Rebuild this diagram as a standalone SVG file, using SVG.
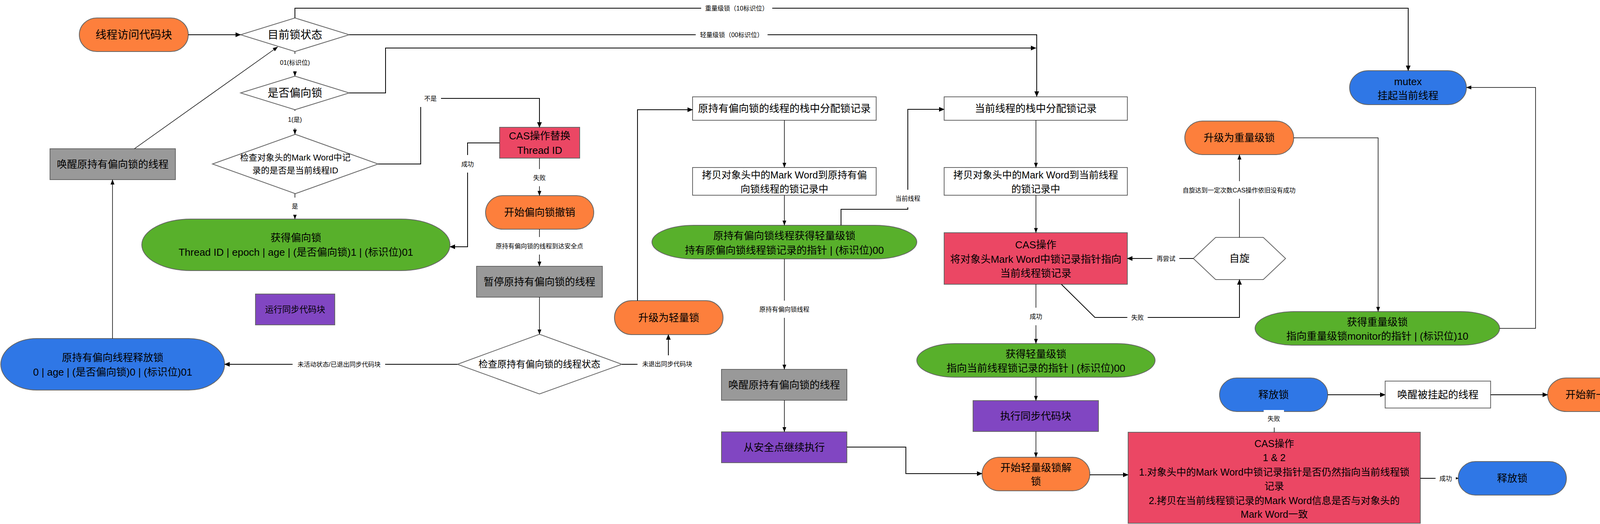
<svg xmlns="http://www.w3.org/2000/svg" width="4264" height="1342" viewBox="0 0 4264 1342">
<style>
.n{stroke:#666;stroke-width:2}
.or{fill:#FD7F3C}.gr{fill:#58B02B}.bl{fill:#2F77E6}.rd{fill:#EB4764}.pu{fill:#8146C2}.gy{fill:#999}.wh{fill:#fff}
text{font-family:"Liberation Sans","Noto Sans CJK SC",sans-serif;fill:#000;text-anchor:middle;dominant-baseline:central}
.t28{font-size:28px}.t26{font-size:26px}.t25{font-size:25px}.t24{font-size:24px}.t22{font-size:22px}
.e{fill:none;stroke:#000;stroke-width:1.5;marker-end:url(#b)}
.k{stroke-width:2;marker-end:url(#a)}
.lb{fill:#fff}
.lt{font-size:16px}
</style>
<defs>
<marker id="a" markerUnits="userSpaceOnUse" markerWidth="14" markerHeight="12" refX="13" refY="6" orient="auto"><path d="M0,0 L14,6 L0,12 z" fill="#000"/></marker>
<marker id="b" markerUnits="userSpaceOnUse" markerWidth="13" markerHeight="10" refX="12.5" refY="5" orient="auto"><path d="M0,0 L13,5 L0,10 z" fill="#000"/></marker>
</defs>
<rect width="4264" height="1342" fill="#fff"/>

<g id="n-start"><path class="n or" d="M248,46 H437 A45,43 0 0 1 437,132 H248 A45,43 0 0 1 248,46 Z"/><text class="t28" x="342.5" y="89">线程访问代码块</text></g>
<g id="n-state"><polygon class="n wh" points="616,89 755,46 894,89 755,132"/><text class="t28" x="755" y="89">目前锁状态</text></g>
<g id="n-biased"><polygon class="n wh" points="616,238 755,195 894,238 755,281"/><text class="t28" x="755" y="238">是否偏向锁</text></g>
<g id="n-check"><polygon class="n wh" points="544,420 756,344 968,420 756,496"/><text class="t22" x="756" y="403">检查对象头的Mark Word中记</text><text class="t22" x="756" y="436">录的是否是当前线程ID</text></g>
<g id="n-wake1"><rect class="n gy" x="128" y="381" width="321" height="79"/><text class="t26" x="288.5" y="420.5">唤醒原持有偏向锁的线程</text></g>
<g id="n-getbiased"><path class="n gr" d="M489,561 H1026 A126,66 0 0 1 1026,693 H489 A126,66 0 0 1 489,561 Z"/><text class="t26" x="757.5" y="609">获得偏向锁</text><text class="t26" x="757.5" y="646">Thread ID | epoch | age | (是否偏向锁)1 | (标识位)01</text></g>
<g id="n-run1"><rect class="n pu" x="654" y="753" width="203" height="79"/><text class="t22" x="755.5" y="792.5">运行同步代码块</text></g>
<g id="n-release0"><path class="n bl" d="M94,867 H483 A92,66 0 0 1 483,999 H94 A92,66 0 0 1 94,867 Z"/><text class="t26" x="288.5" y="916">原持有偏向线程释放锁</text><text class="t26" x="288.5" y="953">0 | age | (是否偏向锁)0 | (标识位)01</text></g>
<g id="n-cas1"><rect class="n rd" x="1279" y="326" width="205" height="79"/><text class="t26" x="1381.5" y="348">CAS操作替换</text><text class="t26" x="1381.5" y="385">Thread ID</text></g>
<g id="n-revoke"><path class="n or" d="M1287,501 H1476 A44,43 0 0 1 1476,587 H1287 A44,43 0 0 1 1287,501 Z"/><text class="t26" x="1381.5" y="544">开始偏向锁撤销</text></g>
<g id="n-pause"><rect class="n gy" x="1220" y="682" width="322" height="79"/><text class="t26" x="1381" y="721.5">暂停原持有偏向锁的线程</text></g>
<g id="n-check2"><polygon class="n wh" points="1171,933 1381,856 1592,933 1381,1009"/><text class="t24" x="1381" y="932">检查原持有偏向锁的线程状态</text></g>
<g id="n-uplight"><path class="n or" d="M1617,770 H1807 A44,43.5 0 0 1 1807,857 H1617 A44,43.5 0 0 1 1617,770 Z"/><text class="t26" x="1712" y="813.5">升级为轻量锁</text></g>
<g id="n-alloc1"><rect class="n wh" x="1773" y="248" width="470" height="60"/><text class="t26" x="2008" y="278">原持有偏向锁的线程的栈中分配锁记录</text></g>
<g id="n-copy1"><rect class="n wh" x="1773" y="429" width="470" height="71"/><text class="t25" x="2008" y="448">拷贝对象头中的Mark Word到原持有偏</text><text class="t25" x="2008" y="484">向锁线程的锁记录中</text></g>
<g id="n-getlight0"><path class="n gr" d="M1777,577 H2239 A108,43 0 0 1 2239,663 H1777 A108,43 0 0 1 1777,577 Z"/><text class="t26" x="2008" y="604">原持有偏向锁线程获得轻量级锁</text><text class="t26" x="2008" y="641">持有原偏向锁线程锁记录的指针 | (标识位)00</text></g>
<g id="n-wake2"><rect class="n gy" x="1847" y="946" width="321" height="79"/><text class="t26" x="2007.5" y="985.5">唤醒原持有偏向锁的线程</text></g>
<g id="n-resume"><rect class="n pu" x="1847" y="1106" width="321" height="79"/><text class="t26" x="2007.5" y="1145.5">从安全点继续执行</text></g>
<g id="n-alloc2"><rect class="n wh" x="2417" y="248" width="469" height="60"/><text class="t26" x="2651.5" y="278">当前线程的栈中分配锁记录</text></g>
<g id="n-copy2"><rect class="n wh" x="2417" y="429" width="469" height="71"/><text class="t25" x="2651.5" y="448">拷贝对象头中的Mark Word到当前线程</text><text class="t25" x="2651.5" y="484">的锁记录中</text></g>
<g id="n-cas2"><rect class="n rd" x="2417" y="596" width="469" height="132"/><text class="t26" x="2651.5" y="627">CAS操作</text><text class="t26" x="2651.5" y="664">将对象头Mark Word中锁记录指针指向</text><text class="t26" x="2651.5" y="700">当前线程锁记录</text></g>
<g id="n-spin"><polygon class="n wh" points="3055,662 3112,608 3234,608 3291,662 3234,716 3112,716"/><text class="t26" x="3173" y="662">自旋</text></g>
<g id="n-upheavy"><path class="n or" d="M3078,310 H3267 A45,43 0 0 1 3267,396 H3078 A45,43 0 0 1 3078,310 Z"/><text class="t26" x="3172.5" y="353">升级为重量级锁</text></g>
<g id="n-mutex"><path class="n bl" d="M3503,181 H3706 A48,43.5 0 0 1 3706,268 H3503 A48,43.5 0 0 1 3503,181 Z"/><text class="t26" x="3604.5" y="209">mutex</text><text class="t26" x="3604.5" y="245">挂起当前线程</text></g>
<g id="n-getheavy"><path class="n gr" d="M3313,798 H3739 A100,43 0 0 1 3739,884 H3313 A100,43 0 0 1 3313,798 Z"/><text class="t26" x="3526" y="825">获得重量级锁</text><text class="t26" x="3526" y="861">指向重量级锁monitor的指针 | (标识位)10</text></g>
<g id="n-getlight"><path class="n gr" d="M2445,880 H2859 A98,43 0 0 1 2859,966 H2445 A98,43 0 0 1 2445,880 Z"/><text class="t26" x="2652" y="907">获得轻量级锁</text><text class="t26" x="2652" y="943">指向当前线程锁记录的指针 | (标识位)00</text></g>
<g id="n-run2"><rect class="n pu" x="2491" y="1026" width="321" height="79"/><text class="t26" x="2651.5" y="1065.5">执行同步代码块</text></g>
<g id="n-unlock"><path class="n or" d="M2558,1171 H2746 A44,43 0 0 1 2746,1257 H2558 A44,43 0 0 1 2558,1171 Z"/><text class="t26" x="2652" y="1198">开始轻量级锁解</text><text class="t26" x="2652" y="1233">锁</text></g>
<g id="n-cas3"><rect class="n rd" x="2888" y="1107" width="748" height="233"/><text class="t25" x="3262" y="1136">CAS操作</text><text class="t25" x="3262" y="1172">1 &amp; 2</text><text class="t25" x="3262" y="1209">1.对象头中的Mark Word中锁记录指针是否仍然指向当前线程锁</text><text class="t25" x="3262" y="1245">记录</text><text class="t25" x="3262" y="1282">2.拷贝在当前线程锁记录的Mark Word信息是否与对象头的</text><text class="t25" x="3262" y="1317">Mark Word一致</text></g>
<g id="n-release1"><path class="n bl" d="M3166,968 H3355 A44,43 0 0 1 3355,1054 H3166 A44,43 0 0 1 3166,968 Z"/><text class="t26" x="3260.5" y="1011">释放锁</text></g>
<g id="n-wakeup"><rect class="n wh" x="3546" y="976" width="270" height="69"/><text class="t26" x="3681" y="1010.5">唤醒被挂起的线程</text></g>
<g id="n-newround"><path class="n or" d="M4010,968 H4213 A48,43 0 0 1 4213,1054 H4010 A48,43 0 0 1 4010,968 Z"/><text class="t26" x="4111.5" y="1011">开始新一轮锁竞争</text></g>
<g id="n-release2"><path class="n bl" d="M3777,1182 H3966 A44,43 0 0 1 3966,1268 H3777 A44,43 0 0 1 3777,1182 Z"/><text class="t26" x="3871.5" y="1225">释放锁</text></g>

<g id="connectors">
<path class="e k" d="M482,89 H616"/>
<path class="e k" d="M755,46 V21 H3605 V181"/>
<path class="e k" d="M894,89 H2654 V247"/>
<path class="e" d="M755,132 V195"/>
<path class="e k" d="M894,238 H987 V123 H2652"/>
<path class="e" d="M755,281 V344"/>
<path class="e" d="M755,496 V561"/>
<path class="e k" d="M968,420 H1077 V252 H1381 V326"/>
<path class="e k" d="M1279,366 H1197 V632 H1152"/>
<path class="e" d="M1381,405 V501"/>
<path class="e" d="M1381,587 V682"/>
<path class="e" d="M1381,761 V856"/>
<path class="e k" d="M1171,933 H575"/>
<path class="e k" d="M1592,933 H1711 V857"/>
<path class="e k" d="M1632,770 V281 H1773"/>
<path class="e" d="M2008,308 V429"/>
<path class="e" d="M2008,500 V577"/>
<path class="e" d="M2008,663 V946"/>
<path class="e" d="M2008,1025 V1106"/>
<path class="e k" d="M2168,1145 H2319 V1213 H2514"/>
<path class="e k" d="M2153,577 V536 H2324 V280 H2417"/>
<path class="e" d="M2652,308 V429"/>
<path class="e" d="M2652,500 V596"/>
<path class="e" d="M2652,728 V880"/>
<path class="e k" d="M2717,728 L2803,813 H3173 V716"/>
<path class="e k" d="M3055,662 H2886"/>
<path class="e" d="M3173,608 V396"/>
<path class="e" d="M3312,353 H3528 V798"/>
<path class="e" d="M3839,841 H3931 V224 H3754"/>
<path class="e" d="M2652,966 V1026"/>
<path class="e" d="M2652,1105 V1171"/>
<path class="e k" d="M2790,1216 H2888"/>
<path class="e" d="M3262,1107 V1054"/>
<path class="e k" d="M3636,1225 H3733"/>
<path class="e k" d="M3399,1011 H3546"/>
<path class="e k" d="M3816,1011 H3962"/>
<path class="e" d="M344,381 L711,120"/>
<path class="e" d="M288,867 V460"/>
</g>

<g id="edge-labels">
<rect class="lb" x="1795" y="1" width="182" height="40"/><text class="lt" x="1886" y="21">重量级锁（10标识位）</text>
<rect class="lb" x="1781" y="69" width="184" height="40"/><text class="lt" x="1873" y="89">轻量级锁（00标识位）</text>
<rect class="lb" x="706" y="138" width="98" height="44"/><text class="lt" x="755" y="160">01(标识位)</text>
<rect class="lb" x="726" y="284" width="58" height="44"/><text class="lt" x="755" y="306">1(是)</text>
<rect class="lb" x="736" y="506" width="38" height="44"/><text class="lt" x="755" y="528">是</text>
<rect class="lb" x="1074" y="230" width="55" height="44"/><text class="lt" x="1102" y="252">不是</text>
<rect class="lb" x="1171" y="397" width="52" height="45"/><text class="lt" x="1197" y="420">成功</text>
<rect class="lb" x="1355" y="433" width="52" height="44"/><text class="lt" x="1381" y="455">失败</text>
<rect class="lb" x="1258" y="607" width="246" height="45"/><text class="lt" x="1381" y="630">原持有偏向锁的线程到达安全点</text>
<rect class="lb" x="749" y="911" width="237" height="44"/><text class="lt" x="868" y="933">未活动状态/已退出同步代码块</text>
<rect class="lb" x="1632" y="910" width="152" height="44"/><text class="lt" x="1708" y="932">未退出同步代码块</text>
<rect class="lb" x="1941" y="770" width="134" height="44"/><text class="lt" x="2008" y="792">原持有偏向锁线程</text>
<rect class="lb" x="2281" y="486" width="86" height="45"/><text class="lt" x="2324" y="508">当前线程</text>
<rect class="lb" x="2626" y="788" width="52" height="45"/><text class="lt" x="2652" y="810">成功</text>
<rect class="lb" x="2886" y="791" width="52" height="44"/><text class="lt" x="2912" y="813">失败</text>
<rect class="lb" x="2950" y="640" width="69" height="44"/><text class="lt" x="2985" y="662">再尝试</text>
<rect class="lb" x="3017" y="464" width="311" height="45"/><text class="lt" x="3172" y="487">自旋达到一定次数CAS操作依旧没有成功</text>
<rect class="lb" x="3235" y="1050" width="52" height="45"/><text class="lt" x="3261" y="1072">失败</text>
<rect class="lb" x="3675" y="1203" width="52" height="44"/><text class="lt" x="3701" y="1225">成功</text>
</g>
</svg>
